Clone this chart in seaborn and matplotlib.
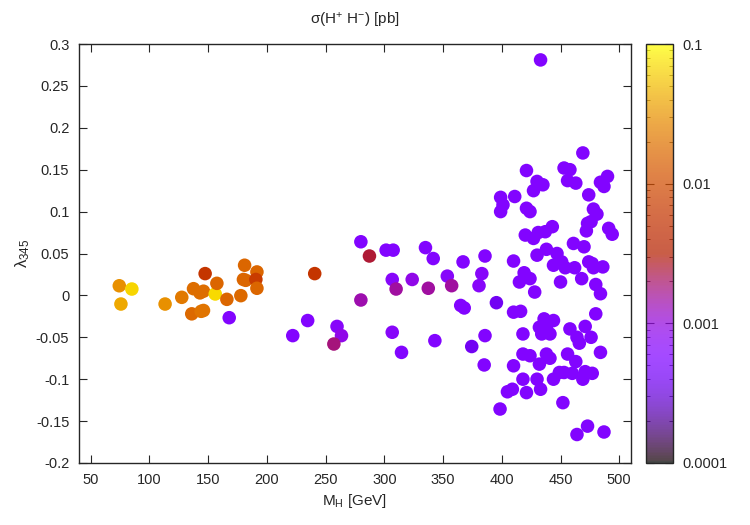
import numpy as np
import pandas as pd
import seaborn as sns
import matplotlib
matplotlib.use("Agg")
import matplotlib.pyplot as plt
from matplotlib.colors import LogNorm
import matplotlib.cm as cm

# data: charged Higgs mass, lambda_345, cross section (pb)
m_h = [
    74.3, 85.0, 75.7, 113.3, 127.5, 147.4, 137.5, 143.0, 146.0, 156.0,
    157.4, 136.0, 146.0, 144.0, 165.9, 167.9, 177.8, 181.0, 191.5, 182.0,
    180.0, 190.6, 191.5, 222.0, 234.7, 240.7, 259.7, 263.5, 257.0, 280.0,
    280.0, 287.3, 301.5, 307.5, 306.7, 310.0, 306.7, 314.6, 323.7, 335.0,
    337.4, 341.6, 343.0, 353.6, 357.3, 365.0, 368.0, 367.0, 374.4, 380.6,
    383.0, 385.7, 385.7, 385.0, 395.4, 399.0, 401.0, 399.0, 404.8, 398.5,
    # dense region
    433, 469, 453, 458, 421, 456, 463, 430, 435, 427,
    484, 490, 487, 474, 411, 421, 424, 478, 481, 443,
    473, 476, 491, 494, 472, 420, 431, 437, 427, 461,
    470, 438, 430, 410, 447, 451, 454, 474, 477, 478,
    486, 462, 444, 419, 424, 415, 428, 450, 468, 480,
    484, 410, 416, 436, 444, 480, 432, 438, 441, 434,
    458, 471, 464, 466, 476, 484, 418, 410, 418, 424,
    432, 438, 441, 456, 463, 449, 453, 460, 471, 477,
    409, 418, 421, 433, 430, 444, 452, 464, 473, 487,
    469,
]
lam345 = [
    0.0115, 0.0076, -0.0103, -0.0103, -0.0023, 0.026, 0.008, 0.003, 0.005, 0.0017,
    0.0144, -0.022, -0.018, -0.019, -0.0047, -0.0266, -0.0003, 0.036, 0.028, 0.018,
    0.019, 0.019, 0.0085, -0.048, -0.030, 0.026, -0.037, -0.048, -0.058, -0.0055,
    0.064, 0.047, 0.054, 0.054, 0.019, 0.0076, -0.044, -0.068, 0.019, 0.057,
    0.0085, 0.044, -0.054, 0.023, 0.0116, -0.012, -0.015, 0.040, -0.061, 0.0116,
    0.026, 0.047, -0.048, -0.083, -0.0087, 0.117, 0.108, 0.100, -0.115, -0.1356,
    0.281, 0.170, 0.152, 0.150, 0.149, 0.137, 0.134, 0.136, 0.132, 0.125,
    0.135, 0.142, 0.130, 0.120, 0.118, 0.104, 0.100, 0.103, 0.097, 0.082,
    0.086, 0.088, 0.080, 0.073, 0.077, 0.072, 0.075, 0.076, 0.068, 0.062,
    0.058, 0.055, 0.048, 0.041, 0.050, 0.040, 0.033, 0.040, 0.038, 0.033,
    0.034, 0.033, 0.036, 0.027, 0.020, 0.016, 0.004, 0.016, 0.020, 0.013,
    0.002, -0.020, -0.019, -0.028, -0.030, -0.022, -0.038, -0.038, -0.046, -0.046,
    -0.040, -0.037, -0.050, -0.057, -0.050, -0.068, -0.046, -0.084, -0.070, -0.072,
    -0.082, -0.070, -0.075, -0.070, -0.079, -0.092, -0.092, -0.093, -0.091, -0.093,
    -0.112, -0.100, -0.116, -0.112, -0.100, -0.100, -0.128, -0.166, -0.156, -0.163,
    -0.100,
]
sigma = [
    0.03, 0.065, 0.04, 0.03, 0.022, 0.006, 0.018, 0.018, 0.018, 0.07,
    0.016, 0.017, 0.02, 0.02, 0.016, 0.0006, 0.017, 0.016, 0.016, 0.016,
    0.016, 0.007, 0.016, 0.0006, 0.0006, 0.006, 0.0007, 0.0009, 0.0018, 0.0014,
    0.0006, 0.0025, 0.0006, 0.0006, 0.0007, 0.0015, 0.0007, 0.0006, 0.0009, 0.0006,
    0.0015, 0.0006, 0.0006, 0.0007, 0.0015, 0.0006, 0.0006, 0.0006, 0.0004, 0.0007,
    0.0007, 0.0006, 0.0006, 0.0006, 0.0004, 0.0006, 0.0006, 0.0006, 0.0006, 0.0006,
] + [0.0006] * 91

df = pd.DataFrame({"M_H": m_h, "lam345": lam345, "sigma": sigma})

sns.set_style("ticks")
plt.rcParams["font.family"] = ["Liberation Sans", "DejaVu Sans"]
plt.rcParams["mathtext.fontset"] = "custom"
plt.rcParams["mathtext.rm"] = "Liberation Sans"
plt.rcParams["mathtext.it"] = "Liberation Sans"

fig = plt.figure(figsize=(7.5, 5.25), dpi=100)
ax = fig.add_axes([79 / 750, 1 - 463 / 525, (631 - 79) / 750, (463 - 44) / 525])
cax = fig.add_axes([646 / 750, 1 - 463 / 525, 27 / 750, (463 - 44) / 525])

norm = LogNorm(vmin=1e-4, vmax=0.1)
sns.scatterplot(data=df, x="M_H", y="lam345", hue="sigma", hue_norm=norm,
                palette="gnuplot", s=95, linewidth=0, legend=False, ax=ax)

ax.set_xlim(40, 510)
ax.set_ylim(-0.2, 0.3)
ax.set_xticks(np.arange(50, 501, 50))
ax.set_yticks(np.arange(-0.2, 0.301, 0.05))
ax.set_yticklabels(["-0.2", "-0.15", "-0.1", "-0.05", "0", "0.05", "0.1",
                    "0.15", "0.2", "0.25", "0.3"])
ax.tick_params(direction="in", top=True, right=True, length=6, width=0.8,
               labelsize=10.5, pad=7)
for sp in ax.spines.values():
    sp.set_linewidth(1.0)
ax.set_xlabel(r"$\mathregular{M_H}$ [GeV]", fontsize=11)
ax.set_ylabel(r"$\mathregular{\lambda_{345}}$", fontsize=12)
ax.yaxis.set_label_coords(-0.085, 0.5)
ax.set_title(r"$\mathregular{\sigma(H^{+}\ H^{-})}$ [pb]", fontsize=11, pad=14)

sm = cm.ScalarMappable(norm=norm, cmap="gnuplot")
cb = fig.colorbar(sm, cax=cax, alpha=0.72)
cb.set_ticks([1e-4, 1e-3, 1e-2, 1e-1])
cb.set_ticklabels(["0.0001", "0.001", "0.01", "0.1"])
cax.tick_params(which="both", direction="in", left=True, right=True,
                labelsize=10.5, pad=7)
cax.tick_params(which="major", length=6)
cax.tick_params(which="minor", length=3)
cb.outline.set_linewidth(1.0)

fig.savefig("out.png", dpi=100)
